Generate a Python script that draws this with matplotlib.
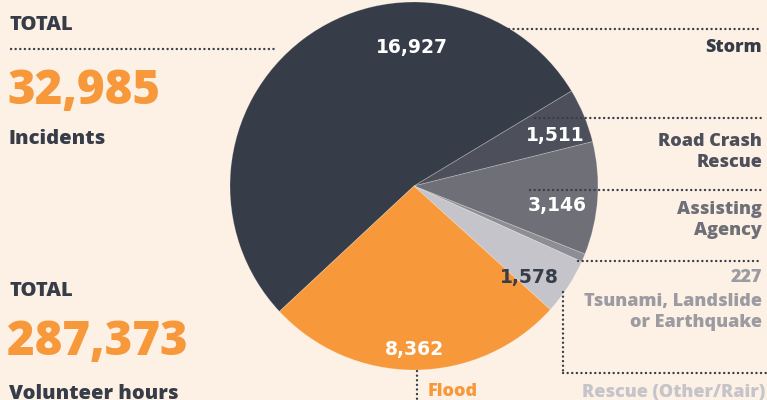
import matplotlib.pyplot as plt

plt.rcParams['font.family'] = ['Open Sans', 'DejaVu Sans']

# 数据
categories = ['Storm', 'Road Crash\nRescue', 'Assisting\nAgency',
              'Tsunami, Landslide\nor Earthquake', 'Rescue (Other/Rair)', 'Flood']
values = [16927, 1511, 3146, 227, 1578, 8362]
value_labels = ['16,927', '1,511', '3,146', '', '1,578', '8,362']
colors = ['#363c48', '#4d505b', '#6f6f78', '#8d8d94', '#c4c4ca', '#f7993a']
total_incidents = '32,985'
total_hours = '287,373'

bg = '#fdf0e4'
dark = '#363c48'
orange = '#f7993a'
W, H = 767, 400
num_font = 'DejaVu Sans'

fig = plt.figure(figsize=(7.67, 4.0), dpi=100, facecolor=bg)
ax = fig.add_axes([0, 0, 1, 1])
ax.set_facecolor(bg)

cx, cy, r = 414, H - 186, 184
wedges, _ = ax.pie(values, colors=colors, startangle=223, counterclock=False,
                   center=(cx, cy), radius=r, frame=True,
                   wedgeprops=dict(edgecolor=(1, 1, 1, 0.25), linewidth=0.6))
ax.set_xlim(0, W)
ax.set_ylim(0, H)
ax.set_aspect('equal')
ax.axis('off')

# 扇区内的数字
label_pos = [(412, 47), (555, 135), (557, 205), None, (529, 277), (414, 349)]
label_col = ['white', 'white', 'white', None, dark, 'white']
for lab, pos, c in zip(value_labels, label_pos, label_col):
    if pos is None:
        continue
    ax.text(pos[0], H - pos[1], lab, color=c, fontsize=13.5, fontweight='bold',
            family=num_font, ha='center', va='center')

dot = dict(color=dark, linewidth=1.7, linestyle=(0, (0.05, 1.9)),
           dash_capstyle='round')


def hline(x0, x1, y):
    ax.plot([x0, x1], [H - y, H - y], **dot)


def vline(x, y0, y1):
    ax.plot([x, x], [H - y0, H - y1], **dot)


lab = dict(fontsize=13, fontweight='heavy', va='center', linespacing=1.35)
left = dict(fontsize=14.5, fontweight='heavy', va='center', ha='left')
big = dict(fontsize=34, fontweight='heavy', va='center', ha='left', color=orange)

# 右边的标签
hline(380, 762, 29)
ax.text(762, H - 48, categories[0], color=dark, ha='right', **lab)
hline(535, 762, 118)
ax.text(762, H - 152, categories[1], color='#4d505b', ha='right', **lab)
hline(530, 762, 190)
ax.text(762, H - 220, categories[2], color='#6f6f78', ha='right', **lab)
hline(578, 762, 261)
ax.text(762, H - 277, '227', color='#9b9ba1', ha='right', **lab)
ax.text(762, H - 312, categories[3], color='#9b9ba1', ha='right', **lab)
vline(563, 292, 373)
hline(563, 767, 373)
ax.text(765, H - 392, categories[4], color='#c4c4ca', ha='right', **lab)
vline(417, 371, 402)
ax.text(428, H - 392, categories[5], color=orange, ha='left', **lab)

# 左边的总数
ax.text(9, H - 25, 'TOTAL', color=dark, **left)
hline(11, 277, 49)
ax.text(7, H - 92, total_incidents, **big)
ax.text(9, H - 139, 'Incidents', color=dark, **left)
ax.text(9, H - 291, 'TOTAL', color=dark, **left)
ax.text(7, H - 343, total_hours, **big)
ax.text(9, H - 394, 'Volunteer hours', color=dark, **left)

fig.savefig('out.png', dpi=100, facecolor=bg)
